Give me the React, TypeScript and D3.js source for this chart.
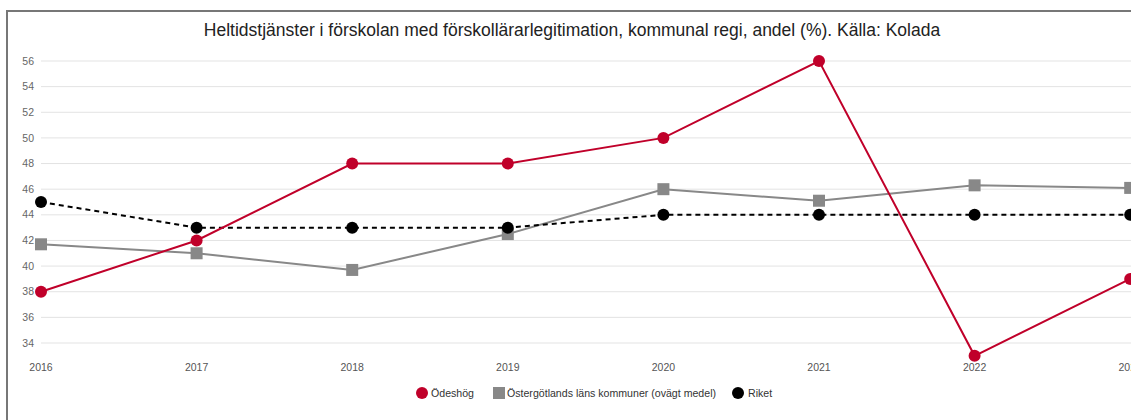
import React from 'react';
import * as d3 from 'd3';

const years = ['2016', '2017', '2018', '2019', '2020', '2021', '2022', '2023'];
const odeshog = [38, 42, 48, 48, 50, 56, 33, 39];
const ostergotland = [41.7, 41, 39.7, 42.5, 46, 45.1, 46.3, 46.1];
const riket = [45, 43, 43, 43, 44, 44, 44, 44];
const yTicks = [34, 36, 38, 40, 42, 44, 46, 48, 50, 52, 54, 56];

const title = 'Heltidstjänster i förskolan med förskollärarlegitimation, kommunal regi, andel (%). Källa: Kolada';

const RED = '#c0002a';
const GRAY = '#888888';
const BLACK = '#000000';

const width = 1131;
const height = 420;

export default function App() {
  const x = d3.scalePoint<string>().domain(years).range([41, 41 + 155.6 * 7]);
  const y = d3.scaleLinear().domain([34, 56]).range([343, 61]);

  const line = d3.line<number>()
    .x((_, i) => x(years[i]) as number)
    .y(d => y(d));

  const font = '"Liberation Sans", Arial, sans-serif';

  return (
    <div style={{ position: 'absolute', left: 0, top: 0 }}>
      <svg width={width} height={height} style={{ display: 'block', background: '#fff' }} fontFamily={font}>
        {/* frame */}
        <line x1={7} y1={11} x2={width} y2={11} stroke="#777" strokeWidth={2} />
        <line x1={7} y1={10} x2={7} y2={height} stroke="#777" strokeWidth={2} />

        <text x={572} y={36} textAnchor="middle" fontSize={17.5} fill="#222">{title}</text>

        {/* grid + y labels */}
        {yTicks.map(t => (
          <g key={t}>
            <line x1={41} x2={width} y1={y(t)} y2={y(t)} stroke="#e3e3e3" strokeWidth={1} />
            <text x={34} y={y(t)} dy="0.35em" textAnchor="end" fontSize={10.5} fill="#666">{t}</text>
          </g>
        ))}

        {/* x labels */}
        {years.map(yr => (
          <text key={yr} x={x(yr)} y={371} textAnchor="middle" fontSize={10.5} fill="#555">{yr}</text>
        ))}

        {/* Östergötland */}
        <path d={line(ostergotland) ?? ''} fill="none" stroke={GRAY} strokeWidth={2} />
        {ostergotland.map((v, i) => (
          <rect key={i} x={(x(years[i]) as number) - 6} y={y(v) - 6} width={12} height={12} fill={GRAY} />
        ))}

        {/* Riket */}
        <path d={line(riket) ?? ''} fill="none" stroke={BLACK} strokeWidth={2} strokeDasharray="5 4" />
        {riket.map((v, i) => (
          <circle key={i} cx={x(years[i])} cy={y(v)} r={6} fill={BLACK} />
        ))}

        {/* Ödeshög */}
        <path d={line(odeshog) ?? ''} fill="none" stroke={RED} strokeWidth={2} />
        {odeshog.map((v, i) => (
          <circle key={i} cx={x(years[i])} cy={y(v)} r={6} fill={RED} />
        ))}

        {/* legend */}
        <g fontSize={10.6} fill="#333">
          <circle cx={422} cy={393} r={6} fill={RED} />
          <text x={431} y={393} dy="0.35em">Ödeshög</text>
          <rect x={493} y={387} width={12} height={12} fill={GRAY} />
          <text x={507} y={393} dy="0.35em">Östergötlands läns kommuner (ovägt medel)</text>
          <circle cx={738} cy={393} r={6} fill={BLACK} />
          <text x={748} y={393} dy="0.35em">Riket</text>
        </g>
      </svg>
    </div>
  );
}
